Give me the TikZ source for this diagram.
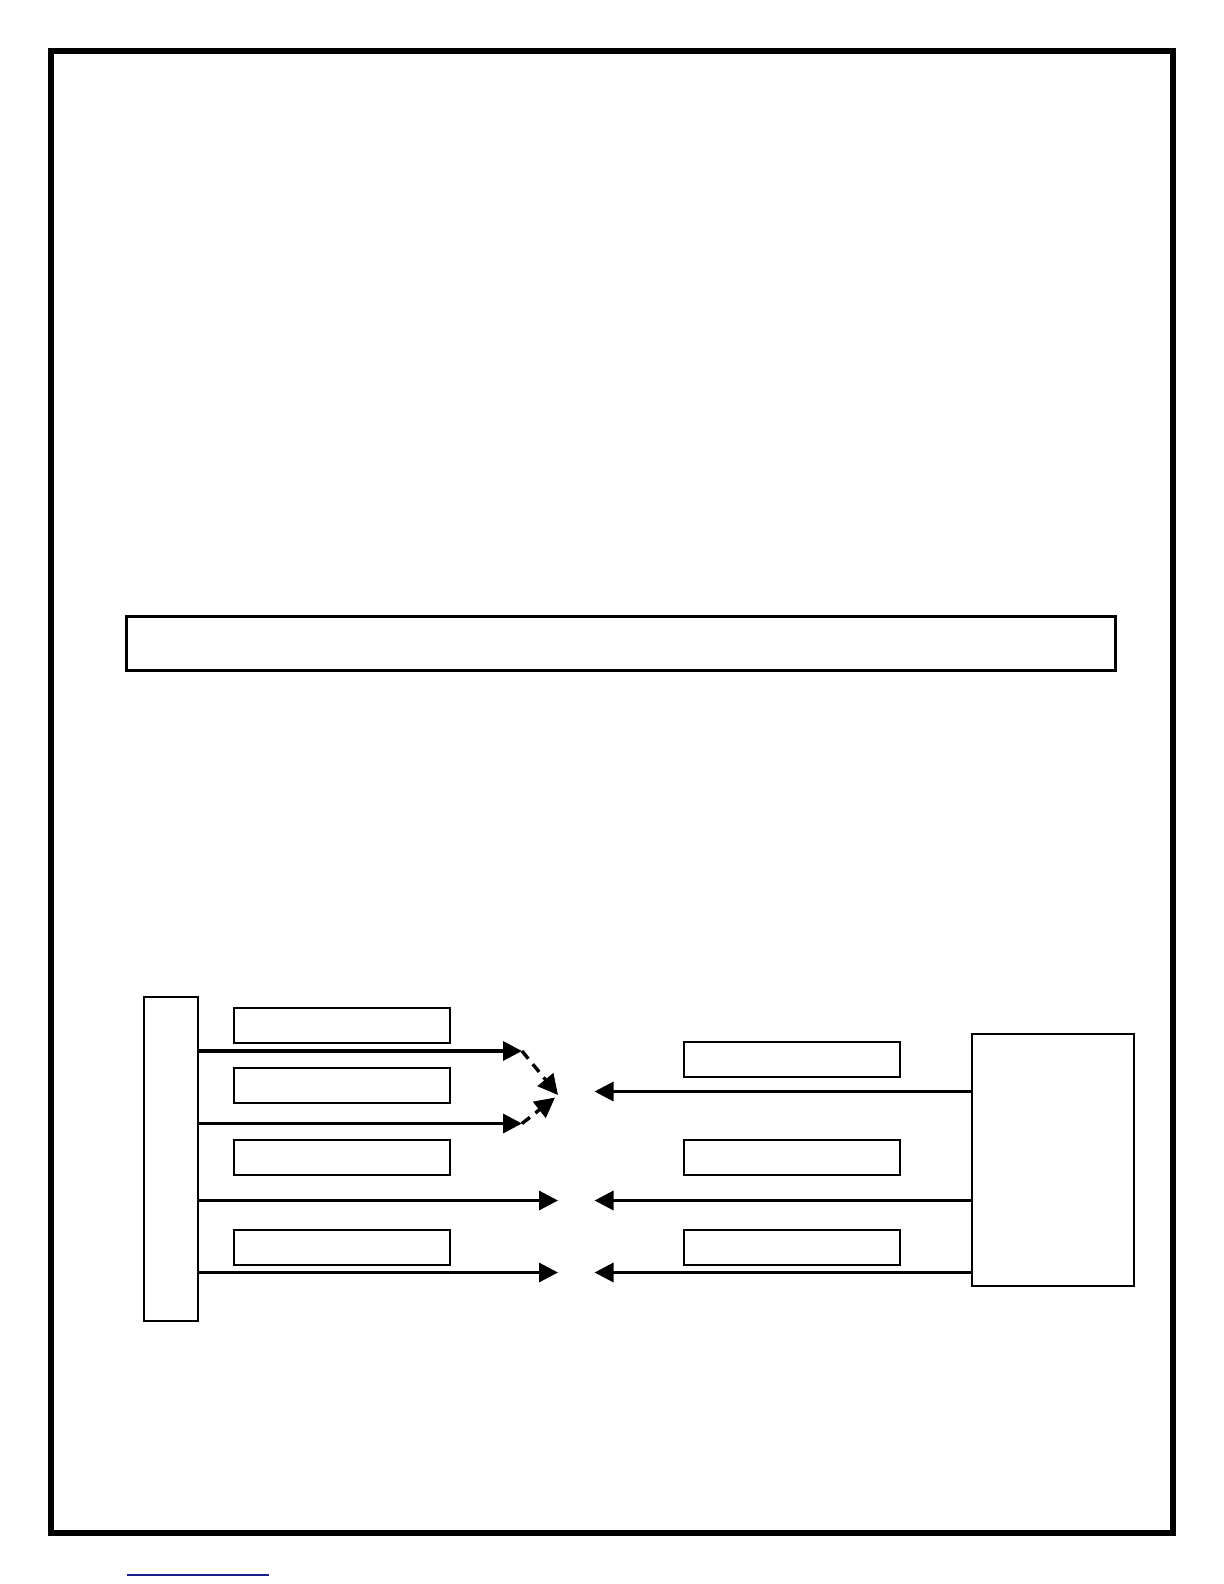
\documentclass[tikz,border=0pt]{standalone}
\usetikzlibrary{arrows.meta}
\definecolor{linkblue}{RGB}{25,30,140}
\begin{document}
\begin{tikzpicture}[x=0.5pt,y=-0.5pt,
  box/.style={draw,line width=0.7pt},
  bigbox/.style={draw,line width=0.9pt},
  conn/.style={line width=1.6pt,-{Triangle[length=9.5pt,width=9.5pt]}},
  dconn/.style={line width=1.7pt,dash pattern=on 5pt off 3.5pt,-{Triangle[length=10pt,width=10pt]}}]
\useasboundingbox (0,0) rectangle (1224,1584);
% outer frame
\draw[line width=3pt] (51,51) rectangle (1173,1533);
% wide bar
\node[draw,line width=1.4pt,minimum width=494.5pt,minimum height=27pt,inner sep=0pt] (bar) at (620.75,643.5) {};
% left tall block
\node[bigbox,minimum width=27pt,minimum height=162pt,inner sep=0pt] (L) at (171,1159) {};
% right big block
\node[bigbox,minimum width=81pt,minimum height=126pt,inner sep=0pt] (R) at (1053,1160) {};
% left small boxes
\node[box,minimum width=108pt,minimum height=17.5pt,inner sep=0pt] (lb1) at (342,1025.5) {};
\node[box,minimum width=108pt,minimum height=17.5pt,inner sep=0pt] (lb2) at (342,1085.5) {};
\node[box,minimum width=108pt,minimum height=17.5pt,inner sep=0pt] (lb3) at (342,1157.5) {};
\node[box,minimum width=108pt,minimum height=17.5pt,inner sep=0pt] (lb4) at (342,1247.5) {};
% right small boxes
\node[box,minimum width=108pt,minimum height=17.5pt,inner sep=0pt] (rb1) at (792,1059.5) {};
\node[box,minimum width=108pt,minimum height=17.5pt,inner sep=0pt] (rb2) at (792,1157.5) {};
\node[box,minimum width=108pt,minimum height=17.5pt,inner sep=0pt] (rb3) at (792,1247.5) {};
% arrow end points
\coordinate (a1) at (522,1051);
\coordinate (a2) at (522,1123.5);
\coordinate (a3) at (558,1200.5);
\coordinate (a4) at (558,1272.5);
\coordinate (m) at (558,1095);
\coordinate (m2) at (555,1097.5);
\coordinate (b1) at (594.5,1091.5);
\coordinate (b2) at (594.5,1200.5);
\coordinate (b3) at (594.5,1272.5);
% left arrows
\draw[conn] (L.east |- a1) -- (a1);
\draw[conn] (L.east |- a2) -- (a2);
\draw[conn] (L.east |- a3) -- (a3);
\draw[conn] (L.east |- a4) -- (a4);
% dashed arrows
\draw[dconn] (a1) -- (m);
\draw[dconn] (a2) -- (m2);
% right arrows
\draw[conn] (R.west |- b1) -- (b1);
\draw[conn] (R.west |- b2) -- (b2);
\draw[conn] (R.west |- b3) -- (b3);
% bottom link underline
\coordinate (u1) at (127,1575);
\coordinate (u2) at (269,1575);
\draw[linkblue,line width=0.6pt] (u1) -- (u2);
\end{tikzpicture}
\end{document}
